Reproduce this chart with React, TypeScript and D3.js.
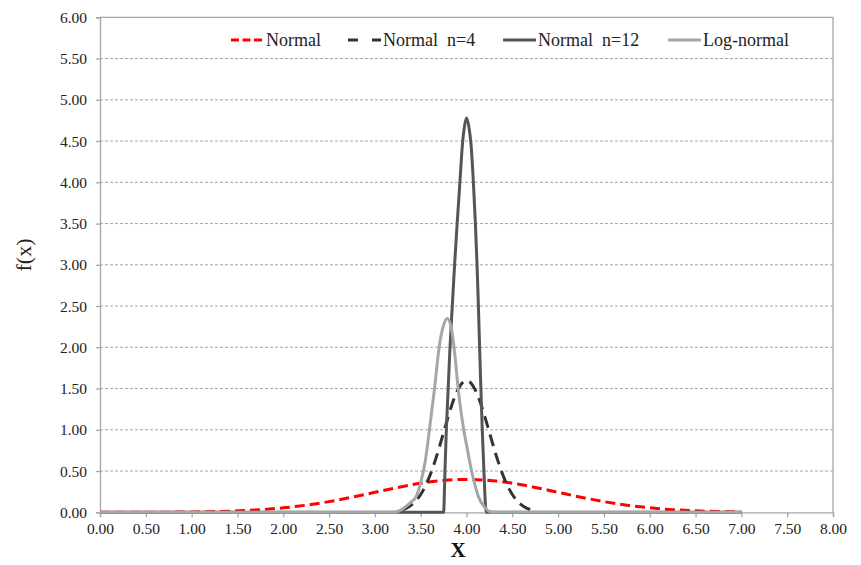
import * as d3 from "d3";
import React, { useEffect, useRef } from "react";

// x positions and f(x) values
const normalX = [0, 0.25, 0.5, 0.75, 1, 1.25, 1.5, 1.75, 2, 2.25, 2.5, 2.75, 3, 3.25, 3.5, 3.75, 4,
    4.25, 4.5, 4.75, 5, 5.25, 5.5, 5.75, 6, 6.25, 6.5, 6.75, 7];
const normalY = [0.0001, 0.0004, 0.0009, 0.002, 0.0044, 0.0091, 0.0175, 0.0317, 0.054, 0.0863, 0.1295,
    0.1826, 0.242, 0.3011, 0.3521, 0.3867, 0.3989, 0.3867, 0.3521, 0.3011, 0.242, 0.1826, 0.1295,
    0.0863, 0.054, 0.0317, 0.0175, 0.0091, 0.0044];

const n4X = [3.3, 3.35, 3.4, 3.45, 3.5, 3.55, 3.6, 3.65, 3.7, 3.75, 3.8, 3.85, 3.9, 3.95, 4,
    4.05, 4.1, 4.15, 4.2, 4.25, 4.3, 4.35, 4.4, 4.45, 4.5, 4.55, 4.6, 4.65, 4.7];
const n4Y = [0.032, 0.054, 0.09, 0.142, 0.216, 0.316, 0.444, 0.599, 0.777, 0.968, 1.159, 1.333, 1.473,
    1.564, 1.596, 1.564, 1.473, 1.333, 1.159, 0.968, 0.777, 0.599, 0.444, 0.316, 0.216, 0.142, 0.09,
    0.054, 0.032];

const n12X = [0, 3.25, 3.5, 3.75, 3.765, 3.78, 3.8, 3.82, 3.845, 3.87, 3.898, 3.928, 3.955, 3.978, 4,
    4.025, 4.05, 4.075, 4.097, 4.115, 4.13, 4.143, 4.157, 4.172, 4.19, 4.215, 4.5, 4.75, 7];
const n12Y = [0, 0, 0, 0, 0.5, 1.0, 1.5, 2.0, 2.5, 3.0, 3.5, 4.0, 4.45, 4.68, 4.78,
    4.68, 4.45, 4.0, 3.5, 3.0, 2.5, 2.0, 1.5, 1.0, 0.5, 0, 0, 0, 0];

const logX = [0, 3.2, 3.25, 3.3, 3.35, 3.4, 3.45, 3.5, 3.55, 3.6, 3.65, 3.7, 3.75, 3.79, 3.83, 3.865,
    3.91, 3.97, 4, 4.055, 4.1, 4.13, 4.2, 4.25, 4.3, 7];
const logY = [0, 0, 0.01, 0.04, 0.08, 0.13, 0.19, 0.36, 0.62, 1.04, 1.49, 1.99, 2.27, 2.35, 2.26, 1.99,
    1.49, 1.0, 0.82, 0.5, 0.3, 0.19, 0.06, 0.01, 0, 0];

const seriesNames = ["Normal", "Normal  n=4", "Normal  n=12", "Log-normal"];
const yTicks = [0, 0.5, 1, 1.5, 2, 2.5, 3, 3.5, 4, 4.5, 5, 5.5, 6];
const xTicks = [0, 0.5, 1, 1.5, 2, 2.5, 3, 3.5, 4, 4.5, 5, 5.5, 6, 6.5, 7, 7.5, 8];

function App() {
    const ref = useRef<SVGSVGElement>(null);

    useEffect(() => {
        const svg = d3.select(ref.current);
        svg.selectAll("*").remove();
        const font = "'Liberation Serif', 'Times New Roman', serif";

        const x = d3.scaleLinear().domain([0, 8]).range([100, 833]);
        const y = d3.scaleLinear().domain([0, 6]).range([512.3, 17.3]);

        // gridlines
        svg.append("g")
            .selectAll("line")
            .data(yTicks.filter((t) => t > 0 && t < 6))
            .enter()
            .append("line")
            .attr("x1", x(0))
            .attr("x2", x(8))
            .attr("y1", (d) => y(d))
            .attr("y2", (d) => y(d))
            .attr("stroke", "#a6a6a6")
            .attr("stroke-width", 1)
            .attr("stroke-dasharray", "3,2");

        // plot area border (top/right)
        svg.append("path")
            .attr("d", `M${x(0)},${y(6)}H${x(8)}V${y(0)}`)
            .attr("fill", "none")
            .attr("stroke", "#a6a6a6")
            .attr("stroke-width", 1.3);

        const yAxis = svg.append("g")
            .attr("transform", `translate(${x(0)},0)`)
            .call(d3.axisLeft(y).tickValues(yTicks).tickSize(4).tickFormat(d3.format(".2f")));
        const xAxis = svg.append("g")
            .attr("transform", `translate(0,${y(0)})`)
            .call(d3.axisBottom(x).tickValues(xTicks).tickSize(5).tickFormat(d3.format(".2f")));
        [yAxis, xAxis].forEach((a) => {
            a.select(".domain").attr("stroke", "#a6a6a6").attr("stroke-width", 1.3);
            a.selectAll(".tick line").attr("stroke", "#a6a6a6").attr("stroke-width", 1.3);
            a.selectAll("text")
                .attr("fill", "#222")
                .style("font-family", font)
                .style("font-size", "15.5px");
        });
        yAxis.selectAll("text").attr("x", -13);
        xAxis.selectAll("text").attr("y", 11);

        const line = d3.line<[number, number]>()
            .x((d) => x(d[0]))
            .y((d) => y(d[1]))
            .curve(d3.curveMonotoneX);

        const zip = (xs: number[], ys: number[]) => xs.map((v, i) => [v, ys[i]] as [number, number]);

        const series = [
            { name: seriesNames[0], data: zip(normalX, normalY), color: "#ff0000", dash: "10,5" },
            { name: seriesNames[1], data: zip(n4X, n4Y), color: "#333333", dash: "12,7" },
            { name: seriesNames[2], data: zip(n12X, n12Y), color: "#555555", dash: null },
            { name: seriesNames[3], data: zip(logX, logY), color: "#a6a6a6", dash: null },
        ];

        series.forEach((s) => {
            svg.append("path")
                .attr("d", line(s.data))
                .attr("fill", "none")
                .attr("stroke", s.color)
                .attr("stroke-width", 3)
                .attr("stroke-linejoin", "round")
                .attr("stroke-dasharray", s.dash);
        });

        // legend
        const legendX = [231, 348, 503, 668];
        series.forEach((s, i) => {
            const g = svg.append("g").attr("transform", `translate(${legendX[i]},40)`);
            g.append("line")
                .attr("x1", 0)
                .attr("x2", 33)
                .attr("stroke", s.color)
                .attr("stroke-width", 3)
                .attr("stroke-dasharray", s.dash ? (i === 0 ? "8,3.5" : "10,14") : null);
            g.append("text")
                .attr("x", 35)
                .attr("y", 5.5)
                .text(s.name)
                .attr("fill", "#222")
                .style("white-space", "pre")
                .style("font-family", font)
                .style("font-size", "18px");
        });

        // axis titles
        svg.append("text")
            .attr("transform", `translate(31,255) rotate(-90)`)
            .attr("text-anchor", "middle")
            .text("f(x)")
            .attr("fill", "#222")
            .style("font-family", font)
            .style("font-size", "22px");
        svg.append("text")
            .attr("x", 458)
            .attr("y", 557)
            .attr("text-anchor", "middle")
            .text("X")
            .attr("fill", "#111")
            .style("font-family", font)
            .style("font-weight", "bold")
            .style("font-size", "21px");
    }, []);

    return (
        <svg
            ref={ref}
            width={861}
            height={565}
            style={{ position: "absolute", left: 0, top: 0, background: "#fff" }}
        />
    );
}

export default App;
